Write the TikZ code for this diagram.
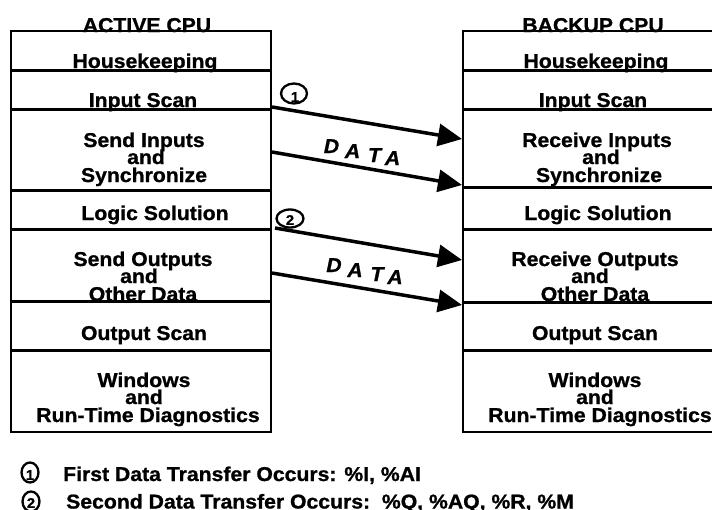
\documentclass[tikz,border=0pt]{standalone}
\usepackage{fontspec}
\setmainfont{Liberation Sans}[FakeStretch=1.06, BoldFeatures={FakeBold=1}, BoldItalicFeatures={FakeBold=1}]
\usetikzlibrary{arrows.meta}
\begin{document}
\begin{tikzpicture}[x=1pt,y=-1pt,
  lbl/.style={font=\bfseries\fontsize{20}{20}\selectfont, inner sep=0pt, anchor=base},
  datalbl/.style={font=\bfseries\itshape\fontsize{20}{20}\selectfont, inner sep=0pt, anchor=base},
  legend/.style={font=\bfseries\fontsize{20}{20}\selectfont, inner sep=0pt, anchor=base west},
  cpubox/.style={draw, line width=2.2pt},
  divider/.style={line width=3pt},
  xfer/.style={line width=3.5pt, -{Triangle[length=24pt,width=22pt]}},
  ring/.style={line width=2.3pt},
  digit/.style={font=\fontsize{14}{14}\selectfont, inner sep=0pt}
]
\useasboundingbox (0,0) rectangle (712,509);

% boxes
\draw[cpubox] (11,31) rectangle (271,432);
\draw[cpubox] (463,31) rectangle (723,432);
\foreach \y in {70,109,190,229,301,350} \draw[divider] (11,\y) -- (271,\y);
\foreach \y in {70,109,187,229,302,350} \draw[divider] (463,\y) -- (723,\y);

% titles
\node[lbl] (tact) at (147,32) {ACTIVE CPU};
\node[lbl] (tbak) at (593,32) {BACKUP CPU};

% left texts
\node[lbl] (l1) at (145,68) {Housekeeping};
\node[lbl] (l2) at (143,107) {Input Scan};
\node[lbl] (l3a) at (144,147) {Send Inputs};
\node[lbl] (l3b) at (146,164) {and};
\node[lbl] (l3c) at (144,182) {Synchronize};
\node[lbl] (l4) at (155,220) {Logic Solution};
\node[lbl] (l5a) at (143,266) {Send Outputs};
\node[lbl] (l5b) at (139,283) {and};
\node[lbl] (l5c) at (143,301) {Other Data};
\node[lbl] (l6) at (144,340) {Output Scan};
\node[lbl] (l7a) at (144,387) {Windows};
\node[lbl] (l7b) at (144,404) {and};
\node[lbl] (l7c) at (148,422) {Run-Time Diagnostics};

% right texts
\node[lbl] (r1) at (596,68) {Housekeeping};
\node[lbl] (r2) at (593,107) {Input Scan};
\node[lbl] (r3a) at (597,147) {Receive Inputs};
\node[lbl] (r3b) at (601,164) {and};
\node[lbl] (r3c) at (599,182) {Synchronize};
\node[lbl] (r4) at (598,220) {Logic Solution};
\node[lbl] (r5a) at (595,266) {Receive Outputs};
\node[lbl] (r5b) at (590,283) {and};
\node[lbl] (r5c) at (595,301) {Other Data};
\node[lbl] (r6) at (595,340) {Output Scan};
\node[lbl] (r7a) at (595,387) {Windows};
\node[lbl] (r7b) at (595,404) {and};
\node[lbl] (r7c) at (600,422) {Run-Time Diagnostics};

% arrow end points
\coordinate (a1s) at (272,107); \coordinate (a1e) at (462,139);
\coordinate (a2s) at (272,152); \coordinate (a2e) at (462,185);
\coordinate (a3s) at (275,228); \coordinate (a3e) at (462,260);
\coordinate (a4s) at (272,273); \coordinate (a4e) at (462,305);
\draw[xfer] (a1s) -- (a1e);
\draw[xfer] (a2s) -- (a2e);
\draw[xfer] (a3s) -- (a3e);
\draw[xfer] (a4s) -- (a4e);

% numbered circles
\draw[ring] (294,93.5) ellipse [x radius=13, y radius=10];
\node[digit] (c1d) at (295,97) {\bfseries 1};
\draw[ring] (290,218.5) ellipse [x radius=13.5, y radius=9];
\node[digit] (c2d) at (290,220) {\bfseries 2};

% DATA labels
\node[datalbl] (d1a) at (331.5,153) {D};
\node[datalbl] (d1b) at (352.5,158) {A};
\node[datalbl] (d1c) at (374.5,162) {T};
\node[datalbl] (d1d) at (392.5,165) {A};
\node[datalbl] (d2a) at (334,272) {D};
\node[datalbl] (d2b) at (355,277) {A};
\node[datalbl] (d2c) at (377,281) {T};
\node[datalbl] (d2d) at (395,284) {A};

% legend
\draw[ring] (30,472.5) ellipse [x radius=8.5, y radius=10];
\node[digit] (lc1d) at (30,475) {\bfseries 1};
\draw[ring] (31,501.5) ellipse [x radius=8.5, y radius=10];
\node[digit] (lc2d) at (31,503) {\bfseries 2};
\node[legend] (lt1) at (63,481) {First Data Transfer Occurs: \%I, \%AI};
\node[legend] (lt2) at (66,508.5) {Second Data Transfer Occurs:\ \ \%Q, \%AQ, \%R, \%M};
\end{tikzpicture}
\end{document}
